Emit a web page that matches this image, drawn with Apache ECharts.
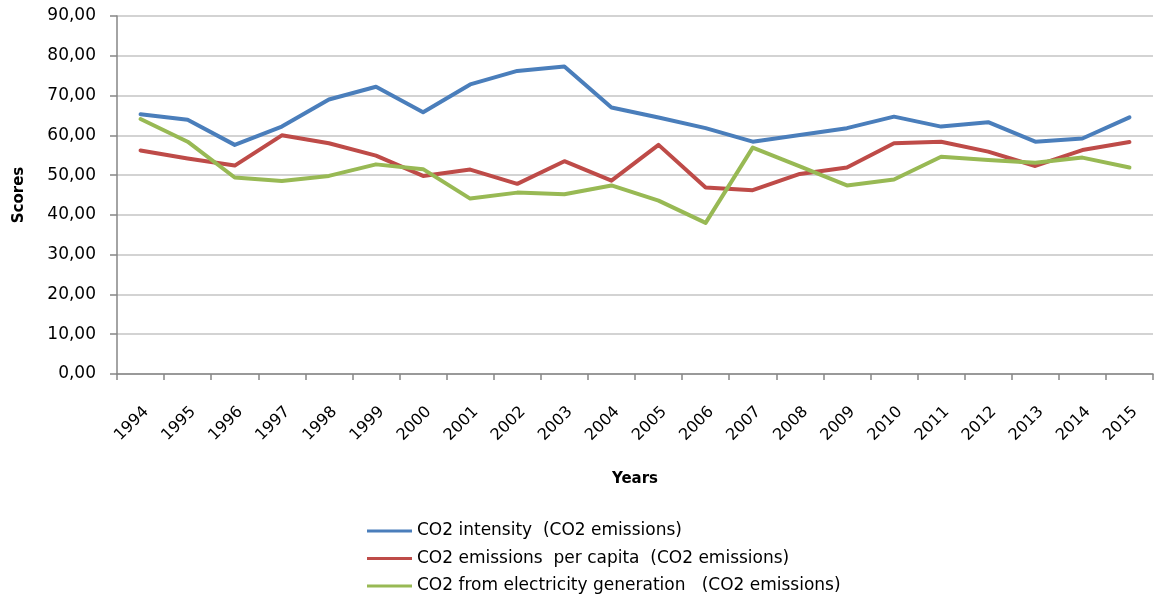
<!DOCTYPE html>
<html>
<head>
<meta charset="utf-8">
<script src="https://cdn.jsdelivr.net/npm/echarts@6/dist/echarts.min.js"></script>
<style>
  html, body { margin: 0; padding: 0; background: #fff; }
  #chart { width: 1154px; height: 599px; }
</style>
</head>
<body>
<div id="chart"></div>
<script>
// Years on the horizontal axis
const years = ['1994','1995','1996','1997','1998','1999','2000','2001','2002','2003','2004',
               '2005','2006','2007','2008','2009','2010','2011','2012','2013','2014','2015'];

// Series names
const nameIntensity = 'CO2 intensity  (CO2 emissions)';
const namePerCapita = 'CO2 emissions  per capita  (CO2 emissions)';
const nameElectricity = 'CO2 from electricity generation   (CO2 emissions)';

// Scores per year
const co2Intensity = [65.3, 63.9, 57.6, 62.2, 69.0, 72.2, 65.8, 72.8, 76.2, 77.3, 67.0,
                      64.5, 61.8, 58.4, 60.1, 61.8, 64.7, 62.2, 63.3, 58.4, 59.2, 64.5];
const co2PerCapita = [56.2, 54.2, 52.4, 60.0, 58.0, 54.9, 49.8, 51.4, 47.8, 53.5, 48.6,
                      57.6, 46.9, 46.2, 50.3, 51.9, 58.0, 58.4, 55.9, 52.3, 56.3, 58.3];
const co2Electricity = [64.1, 58.4, 49.4, 48.5, 49.8, 52.7, 51.5, 44.1, 45.6, 45.2, 47.4,
                        43.6, 38.0, 56.9, 52.2, 47.4, 48.9, 54.6, 53.8, 53.1, 54.4, 51.9];

// Value axis range
const yMin = 0, yMax = 90, yStep = 10;

const FONT = '"DejaVu Sans", sans-serif';
const AXIS_GREY = '#868686';
const GRID_GREY = '#c4c4c4';

const colors = ['#4a7ebb', '#be4b48', '#98b954'];

function lineSeries(name, data, color) {
  return {
    name: name,
    type: 'line',
    data: data,
    symbol: 'none',
    smooth: false,
    lineStyle: { color: color, width: 4, cap: 'round', join: 'round' },
    itemStyle: { color: color },
    emphasis: { disabled: true }
  };
}

const chart = echarts.init(document.getElementById('chart'), null, { renderer: 'canvas' });

chart.setOption({
  animation: false,
  color: colors,
  textStyle: { fontFamily: FONT, color: '#000' },
  grid: { left: 117, right: 1, top: 16, bottom: 225, containLabel: false },
  legend: {
    orient: 'vertical',
    left: 367,
    top: 522,
    padding: 0,
    itemWidth: 45,
    itemHeight: 3,
    itemGap: 9.5,
    icon: 'rect',
    textStyle: { fontFamily: FONT, fontSize: 17, color: '#000', lineHeight: 18 },
    data: [nameIntensity, namePerCapita, nameElectricity]
  },
  xAxis: {
    type: 'category',
    data: years,
    boundaryGap: true,
    name: 'Years',
    nameLocation: 'middle',
    nameGap: 98,
    nameTextStyle: { fontFamily: FONT, fontSize: 15, fontWeight: 'bold', color: '#000' },
    axisLine: { lineStyle: { color: AXIS_GREY, width: 1.5 } },
    axisTick: { show: true, alignWithLabel: false, length: 6, lineStyle: { color: AXIS_GREY, width: 1.5 } },
    axisLabel: {
      rotate: 45,
      margin: 41,
      // nudges each year along its own baseline so it sits right of the category centre
      padding: [0, -8, 0, 0],
      fontFamily: FONT,
      fontSize: 16,
      color: '#000',
      interval: 0
    },
    splitLine: { show: false }
  },
  yAxis: {
    type: 'value',
    min: yMin,
    max: yMax,
    interval: yStep,
    name: 'Scores',
    nameLocation: 'middle',
    nameGap: 90,
    nameRotate: 90,
    nameTextStyle: { fontFamily: FONT, fontSize: 15, fontWeight: 'bold', color: '#000' },
    axisLine: { show: true, lineStyle: { color: AXIS_GREY, width: 1.5 } },
    axisTick: { show: true, length: 7, lineStyle: { color: AXIS_GREY, width: 1.5 } },
    axisLabel: {
      margin: 21,
      fontFamily: FONT,
      fontSize: 17,
      color: '#000',
      formatter: v => v.toFixed(2).replace('.', ',')
    },
    splitLine: { show: true, lineStyle: { color: GRID_GREY, width: 1.5 } }
  },
  series: [
    lineSeries(nameIntensity, co2Intensity, colors[0]),
    lineSeries(namePerCapita, co2PerCapita, colors[1]),
    lineSeries(nameElectricity, co2Electricity, colors[2])
  ]
});
</script>
</body>
</html>
